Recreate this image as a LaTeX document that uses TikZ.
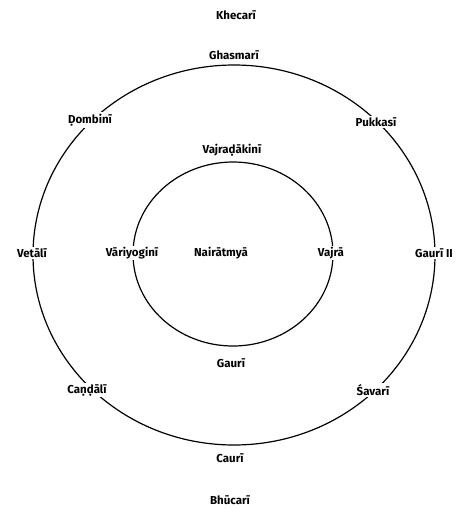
\documentclass[tikz,border=0pt]{standalone}
\usepackage{fontspec}
\setmainfont{Fira Sans}
\usetikzlibrary{positioning}
\tikzset{lbl/.style = {fill=white, inner sep=1.5pt, font=\bfseries\fontsize{11.5}{13}\selectfont}}
\tikzset{ring/.style = {line width=1.2pt}}

\begin{document}
\begin{tikzpicture}[x=1pt,y=-1pt]
    \useasboundingbox (0,0) rectangle (459,512);
    \coordinate (outer) at (234,255);
    \coordinate (inner) at (233,254);
    \draw[ring] (outer) ellipse [x radius=201pt, y radius=190pt];
    \draw[ring] (inner) ellipse [x radius=100pt, y radius=92pt];
    % outer ring
    \node[lbl] (ghasmari) at (234,55) {Ghasmarī};
    \node[lbl] (dombini) at (90,120) {Ḍombinī};
    \node[lbl] (pukkasi) at (376,122) {Pukkasī};
    \node[lbl] (vetali) at (32,253) {Vetālī};
    \node[lbl] (gauri2) at (434,253) {Gaurī II};
    \node[lbl] (candali) at (87,390) {Caṇḍālī};
    \node[lbl] (savari) at (373,390) {Śavarī};
    \node[lbl] (cauri) at (230,458) {Caurī};
    % inner ring
    \node[lbl] (vajradakini) at (232,150) {Vajraḍākinī};
    \node[lbl] (variyogini) at (132,253) {Vāriyoginī};
    \node[lbl] (nairatmya) at (221,253) {Nairātmyā};
    \node[lbl] (vajra) at (331,253) {Vajrā};
    \node[lbl] (gauri) at (231,363) {Gaurī};
    % above and below
    \node[lbl] (khecari) at (236,15) {Khecarī};
    \node[lbl] (bhucari) at (230,500) {Bhūcarī};
\end{tikzpicture}
\end{document}
